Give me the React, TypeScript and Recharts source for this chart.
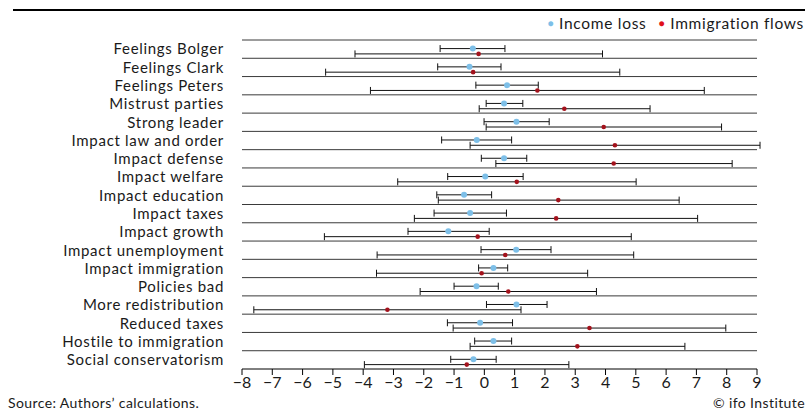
import {
  ComposedChart,
  ErrorBar,
  ReferenceLine,
  Scatter,
  XAxis,
  YAxis,
} from 'recharts'

// Values.
const CATEGORIES = [
  'Feelings Bolger',
  'Feelings Clark',
  'Feelings Peters',
  'Mistrust parties',
  'Strong leader',
  'Impact law and order',
  'Impact defense',
  'Impact welfare',
  'Impact education',
  'Impact taxes',
  'Impact growth',
  'Impact unemployment',
  'Impact immigration',
  'Policies bad',
  'More redistribution',
  'Reduced taxes',
  'Hostile to immigration',
  'Social conservatorism',
]

const INCOME_EST = [-0.38, -0.49, 0.75, 0.65, 1.06, -0.25, 0.65, 0.03, -0.67, -0.47, -1.19, 1.05, 0.3, -0.26, 1.06, -0.14, 0.3, -0.36]
const INCOME_LO = [-1.46, -1.54, -0.28, 0.06, -0.01, -1.41, -0.1, -1.21, -1.57, -1.66, -2.52, -0.11, -0.19, -1.0, 0.07, -1.22, -0.32, -1.11]
const INCOME_HI = [0.68, 0.55, 1.78, 1.27, 2.14, 0.9, 1.4, 1.28, 0.24, 0.73, 0.16, 2.2, 0.77, 0.46, 2.07, 0.93, 0.9, 0.39]

const IMMIG_EST = [-0.19, -0.37, 1.75, 2.64, 3.94, 4.31, 4.27, 1.07, 2.44, 2.37, -0.22, 0.69, -0.09, 0.79, -3.2, 3.47, 3.07, -0.58]
const IMMIG_LO = [-4.27, -5.24, -3.76, -0.17, 0.06, -0.47, 0.38, -2.86, -1.52, -2.31, -5.28, -3.54, -3.56, -2.12, -7.61, -1.03, -0.47, -3.96]
const IMMIG_HI = [3.9, 4.47, 7.26, 5.47, 7.83, 9.1, 8.18, 5.01, 6.43, 7.04, 4.85, 4.93, 3.41, 3.7, 1.21, 7.97, 6.62, 2.79]

const X_TICKS = [-8, -7, -6, -5, -4, -3, -2, -1, 0, 1, 2, 3, 4, 5, 6, 7, 8, 9]

const BLUE = '#7dbfe8'
const RED = '#a3121c'
const LINE = '#3a3a3a'
const TEXT = '#1a1a1a'
const FONT = 'Lato, "Noto Sans", sans-serif'

// row offsets inside a category band (0 = top, 1 = bottom)
const INCOME_OFFSET = 0.47
const IMMIG_OFFSET = 0.76

const buildSeries = (est: number[], lo: number[], hi: number[], offset: number) =>
  est.map((x, i) => ({ x, y: i + offset, err: [x - lo[i], hi[i] - x] }))

const incomeData = buildSeries(INCOME_EST, INCOME_LO, INCOME_HI, INCOME_OFFSET)
const immigData = buildSeries(IMMIG_EST, IMMIG_LO, IMMIG_HI, IMMIG_OFFSET)

const rowTicks = CATEGORIES.map((_, i) => i + 0.5)
const rowLines = CATEGORIES.map((_, i) => i)

const fmtTick = (v: number) => (v < 0 ? `\u2212${Math.abs(v)}` : String(v))

export default function App() {
  return (
    <div style={{ position: 'relative', width: 811, height: 417, background: '#fff', fontFamily: FONT, color: TEXT }}>
      <style>{'body{margin:0}'}</style>
      <div style={{ position: 'absolute', left: 13, top: 9, width: 792, height: 2, background: '#000' }} />
      <div
        style={{
          position: 'absolute',
          right: 7,
          top: 13,
          fontSize: 15.5,
          letterSpacing: 0.7,
          lineHeight: '20px',
          display: 'flex',
          alignItems: 'center',
          gap: 5,
        }}
      >
        <span style={{ color: BLUE, fontSize: 10 }}>●</span>
        <span style={{ marginRight: 7 }}>Income loss</span>
        <span style={{ color: '#e0101a', fontSize: 10 }}>●</span>
        <span>Immigration flows</span>
      </div>
      <div style={{ position: 'absolute', top: 0, left: 0 }}>
        <ComposedChart width={811} height={396} margin={{ top: 40, right: 54, bottom: 0, left: 0 }}>
          <XAxis
            type="number"
            dataKey="x"
            domain={[-8, 9]}
            ticks={X_TICKS}
            interval={0}
            allowDataOverflow
            tickFormatter={fmtTick}
            tick={{ fill: TEXT, fontSize: 16, fontFamily: FONT }}
            axisLine={{ stroke: '#000' }}
            tickLine={{ stroke: '#000' }}
            tickSize={6}
            height={27}
          />
          <YAxis
            type="number"
            dataKey="y"
            domain={[0, CATEGORIES.length]}
            reversed
            ticks={rowTicks}
            interval={0}
            tickFormatter={(v: number) => CATEGORIES[Math.floor(v)]}
            tick={{ fill: TEXT, fontSize: 15, fontFamily: FONT, letterSpacing: 0.7 }}
            axisLine={false}
            tickLine={false}
            tickSize={0}
            tickMargin={18}
            width={242}
          />
          {rowLines.map((y) => (
            <ReferenceLine key={y} y={y} stroke={LINE} strokeWidth={1} ifOverflow="extendDomain" />
          ))}
          <Scatter data={incomeData} fill={BLUE} shape={(p: any) => <circle cx={p.cx} cy={p.cy} r={3} fill={BLUE} />} isAnimationActive={false}>
            <ErrorBar dataKey="err" direction="x" width={3.5} stroke="#111" strokeWidth={1} />
          </Scatter>
          <Scatter data={immigData} fill={RED} shape={(p: any) => <circle cx={p.cx} cy={p.cy} r={2.3} fill={RED} />} isAnimationActive={false}>
            <ErrorBar dataKey="err" direction="x" width={3.5} stroke="#111" strokeWidth={1} />
          </Scatter>
        </ComposedChart>
      </div>
      <div style={{ position: 'absolute', left: 8, top: 394, fontSize: 14, letterSpacing: 0.4 }}>Source: Authors’ calculations.</div>
      <div style={{ position: 'absolute', right: 6, top: 394, fontSize: 14, letterSpacing: 0.4 }}>© ifo Institute</div>
    </div>
  )
}
